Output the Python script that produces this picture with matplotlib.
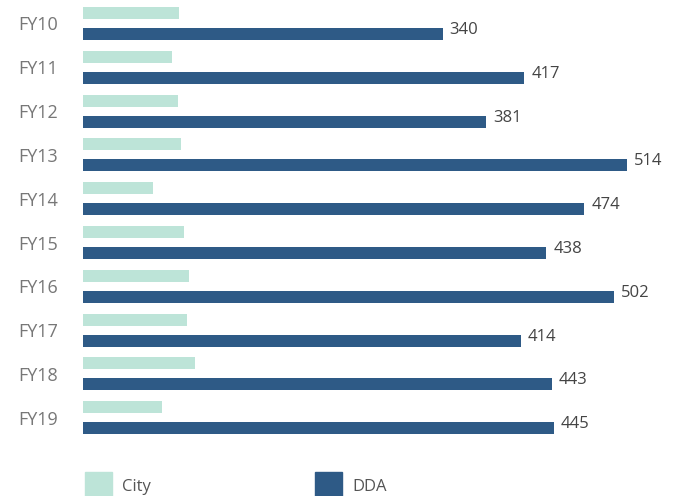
import numpy as np
import matplotlib
matplotlib.use("Agg")
import matplotlib.pyplot as plt
from matplotlib.patches import Rectangle

plt.rcParams['font.family'] = ['Open Sans', 'DejaVu Sans']

# data
years = ['FY10', 'FY11', 'FY12', 'FY13', 'FY14', 'FY15', 'FY16', 'FY17', 'FY18', 'FY19']
city = [91, 84, 90, 93, 66, 95, 100, 98, 106, 75]
dda = [340, 417, 381, 514, 474, 438, 502, 414, 443, 445]

city_color = '#bde4d8'
dda_color = '#2e5a86'

W, H = 678, 496
fig = plt.figure(figsize=(W / 100, H / 100), dpi=100)

# axes placement in pixels (from top-left)
left, top, bottom = 83, 0, 450
ax = fig.add_axes([left / W, (H - bottom) / H, (W - left) / W, (bottom - top) / H])

pitch = 43.8           # px between groups
first_center = 23.5    # px of first group centre
y = np.arange(len(years))
off = 10.5 / pitch
bh = 12 / pitch

ax.barh(y - off, city, height=bh, color=city_color)
ax.barh(y + off, dda, height=bh, color=dda_color)

for yy, v in zip(y + off, dda):
    ax.annotate(str(v), xy=(v, yy), xytext=(5, 0), textcoords='offset points',
                ha='left', va='baseline', fontsize=12, color='#444444')

ax.set_xlim(0, (W - left) / 1.058)
ax.set_ylim((bottom - first_center) / pitch, -first_center / pitch)

ax.set_yticks(y)
ax.set_yticklabels(years, fontsize=13, color='#777777')
ax.tick_params(axis='y', length=0, pad=18)
ax.set_xticks([])
for s in ax.spines.values():
    s.set_visible(False)

# legend at the bottom, partly cut off like the reference
def px_rect(x, ytop, w, h, color):
    fig.patches.append(Rectangle((x / W, (H - ytop - h) / H), w / W, h / H,
                                 transform=fig.transFigure, color=color))

px_rect(85, 472, 27, 27, city_color)
px_rect(315, 472, 27, 27, dda_color)
fig.text(122 / W, (H - 491) / H, 'City', fontsize=12, color='#555555', va='baseline')
fig.text(352 / W, (H - 491) / H, 'DDA', fontsize=12, color='#555555', va='baseline')

fig.savefig('out.png', dpi=100)
